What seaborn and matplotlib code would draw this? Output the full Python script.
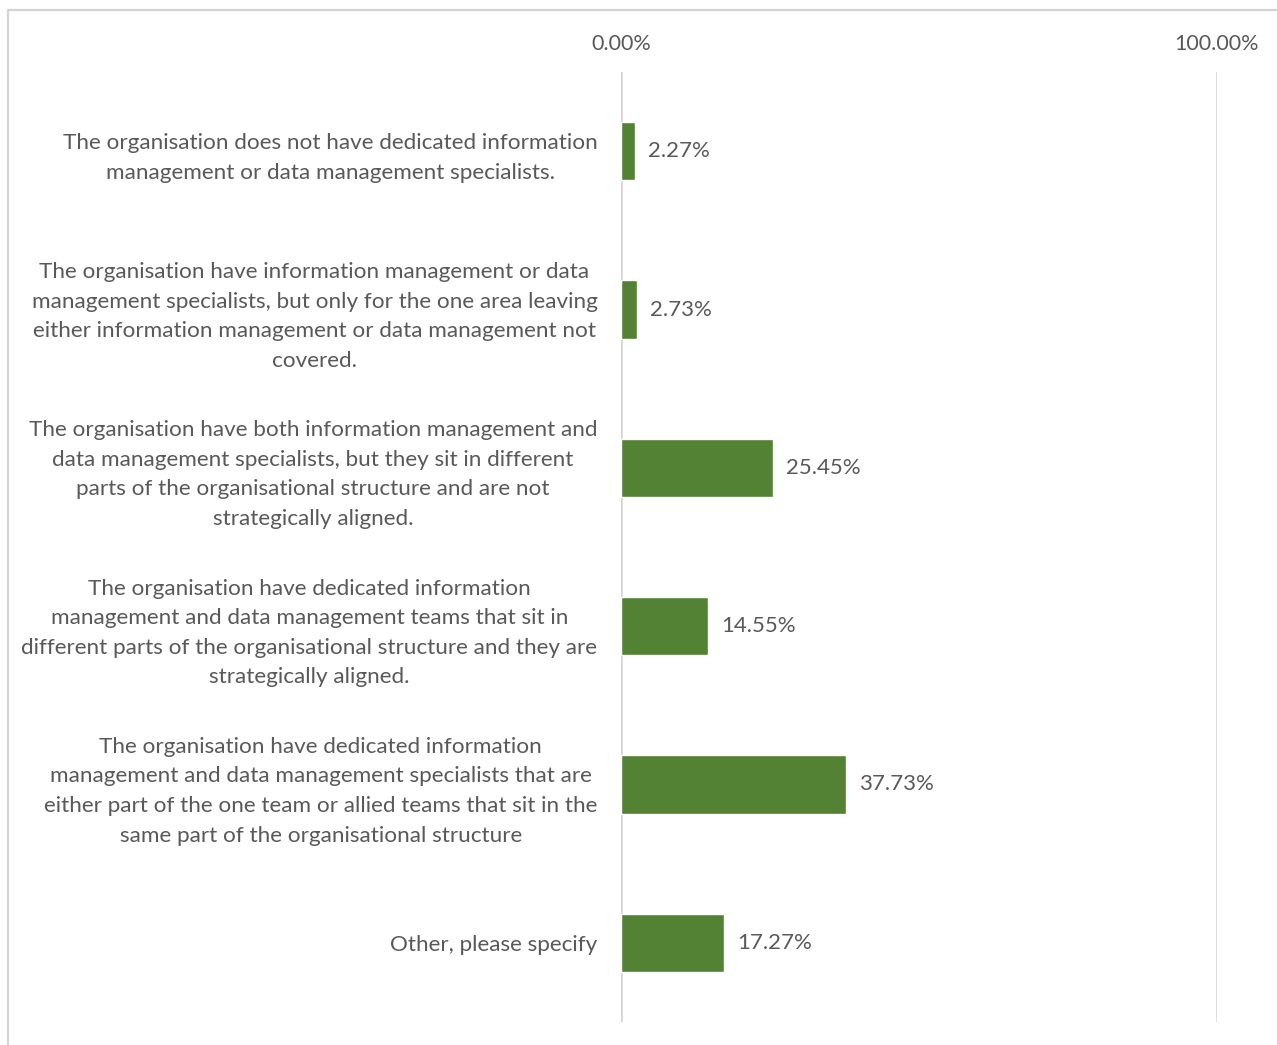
import matplotlib
matplotlib.use("Agg")
import matplotlib.pyplot as plt
import seaborn as sns
import pandas as pd
from matplotlib.lines import Line2D

categories = [
    "The organisation does not have dedicated information\nmanagement or data management specialists.",
    "The organisation have information management or data\nmanagement specialists, but only for the one area leaving\neither information management or data management not\ncovered.",
    "The organisation have both information management and\ndata management specialists, but they sit in different\nparts of the organisational structure and are not\nstrategically aligned.",
    "The organisation have dedicated information\nmanagement and data management teams that sit in\ndifferent parts of the organisational structure and they are\nstrategically aligned.",
    "The organisation have dedicated information\nmanagement and data management specialists that are\neither part of the one team or allied teams that sit in the\nsame part of the organisational structure",
    "Other, please specify",
]
values = [2.27, 2.73, 25.45, 14.55, 37.73, 17.27]
tick_values = [0, 100]
tick_labels = ["0.00%", "100.00%"]

df = pd.DataFrame({"category": categories, "value": values})

sns.set_theme(style="white")
plt.rcParams["font.family"] = ["Lato", "DejaVu Sans"]
text_color = "#595959"
bar_color = "#548235"
grid_color = "#d4d4d4"

fig = plt.figure(figsize=(12.77, 10.45), dpi=100)
ax = fig.add_axes([621 / 1277, (1045 - 1022) / 1045, (1217 - 621) / 1277, (1022 - 72) / 1045])

sns.barplot(data=df, y="category", x="value", orient="h", color=bar_color,
            width=0.37, saturation=1, ax=ax, zorder=3)

ax.set_xlim(0, 100)
ax.set_xticks(tick_values)
ax.set_xticklabels(tick_labels, fontsize=15.5, color=text_color)
ax.xaxis.tick_top()
ax.tick_params(axis="x", length=0, pad=13)
ax.tick_params(axis="y", length=0, pad=17, labelsize=16.2, labelcolor=text_color)
for lab in ax.get_yticklabels():
    lab.set_multialignment("center")
    lab.set_linespacing(1.6)

for x in tick_values:
    ax.axvline(x, color=grid_color, lw=1.8, zorder=1)

for s in ax.spines.values():
    s.set_visible(False)
ax.set_xlabel("")
ax.set_ylabel("")

texts = ax.bar_label(ax.containers[0], labels=[f"{v:.2f}%" for v in values],
                     padding=9.5, fontsize=16, color=text_color)

# outer chart border (left and top edges visible)
fig.add_artist(Line2D([7.5 / 1277, 7.5 / 1277], [0, (1045 - 10) / 1045],
                      transform=fig.transFigure, color=grid_color, lw=1.6))
fig.add_artist(Line2D([7.5 / 1277, 1], [(1045 - 10) / 1045, (1045 - 10) / 1045],
                      transform=fig.transFigure, color=grid_color, lw=1.6))

fig.savefig("out.png", dpi=100)
